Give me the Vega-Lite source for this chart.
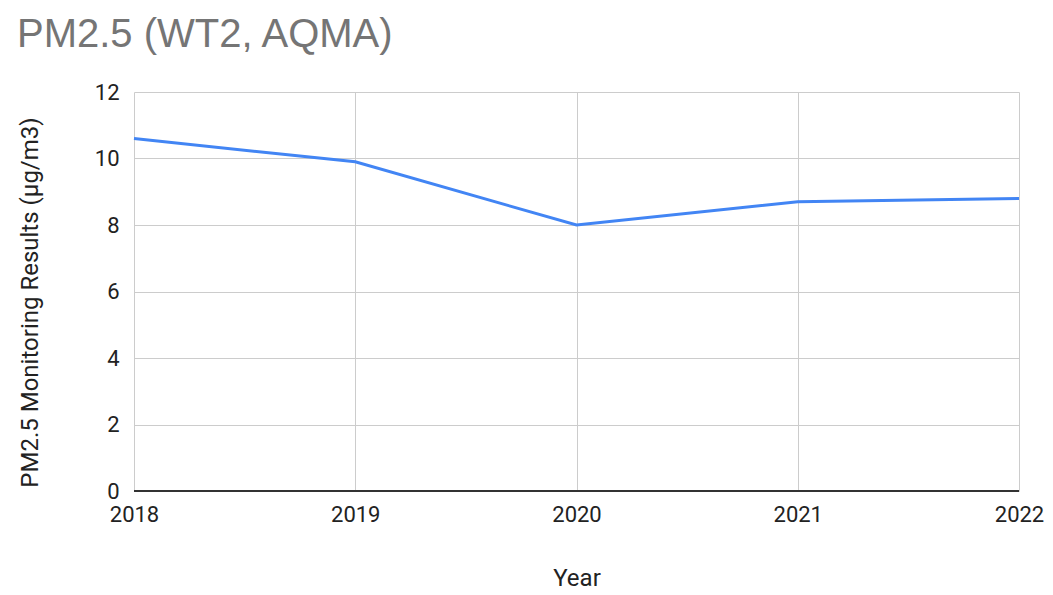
{
  "$schema": "https://vega.github.io/schema/vega-lite/v6.json",
  "width": 885,
  "height": 399,
  "autosize": "none",
  "padding": {"left": 134, "top": 92, "right": 34, "bottom": 104},
  "background": "white",
  "title": {
    "text": "PM2.5 (WT2, AQMA)",
    "anchor": "start",
    "frame": "group",
    "dx": -117,
    "offset": 26,
    "font": "Liberation Sans",
    "fontSize": 40,
    "fontWeight": "normal",
    "color": "#757575"
  },
  "config": {
    "view": {"stroke": null},
    "axis": {
      "labelFont": "Roboto",
      "titleFont": "Roboto",
      "labelFontSize": 22,
      "titleFontSize": 24,
      "titleFontWeight": "normal",
      "labelColor": "#222222",
      "titleColor": "#222222",
      "gridColor": "#cccccc",
      "gridWidth": 1,
      "ticks": false,
      "domain": false
    }
  },
  "data": {
    "values": [
      {"Year": "2018", "PM25": 10.6},
      {"Year": "2019", "PM25": 9.9},
      {"Year": "2020", "PM25": 8.0},
      {"Year": "2021", "PM25": 8.7},
      {"Year": "2022", "PM25": 8.8}
    ]
  },
  "layer": [
    {
      "mark": {"type": "line", "color": "#4285F4", "strokeWidth": 3},
      "encoding": {
        "x": {
          "field": "Year",
          "type": "ordinal",
          "scale": {"type": "point", "padding": 0},
          "axis": {"labelAngle": 0, "grid": true, "labelPadding": 13, "titlePadding": 41, "title": "Year"}
        },
        "y": {
          "field": "PM25",
          "type": "quantitative",
          "scale": {"domain": [0, 12], "nice": false},
          "axis": {"values": [0, 2, 4, 6, 8, 10, 12], "grid": true, "labelPadding": 15, "titlePadding": 52, "titleY": 210, "title": "PM2.5 Monitoring Results (µg/m3)"}
        }
      }
    },
    {
      "mark": {"type": "rule", "color": "#333333", "strokeWidth": 1.5},
      "encoding": {"y": {"datum": 0, "type": "quantitative"}}
    }
  ]
}
